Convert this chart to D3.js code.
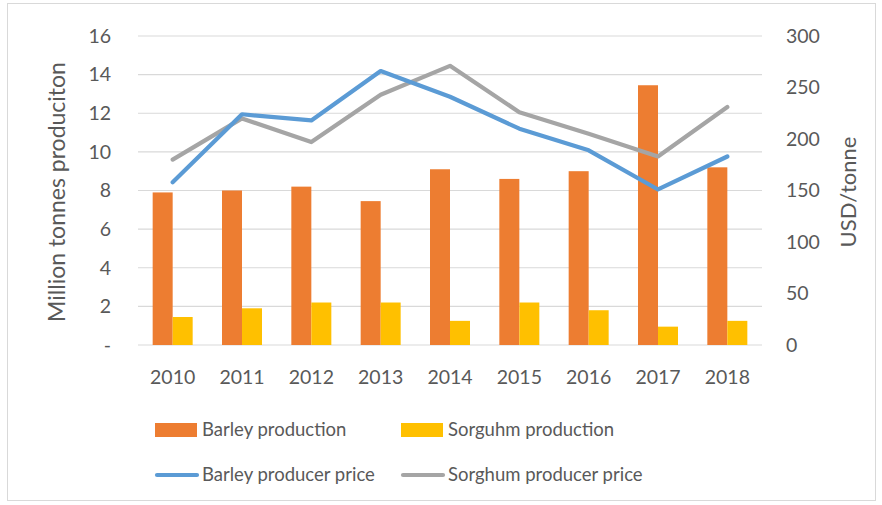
<!DOCTYPE html>
<html><head><meta charset="utf-8">
<script src="https://cdn.jsdelivr.net/npm/d3@7"></script>
<style>
html,body{margin:0;padding:0;background:#fff;}
svg text{font-family:Lato,"Open Sans",sans-serif;fill:#595959;}
</style></head>
<body><svg id="c" width="882" height="505"></svg>
<script>
const years = ["2010","2011","2012","2013","2014","2015","2016","2017","2018"];
const barleyProduction = [7.9, 8.0, 8.2, 7.45, 9.1, 8.6, 9.0, 13.45, 9.2];
const sorghumProduction = [1.45, 1.9, 2.2, 2.2, 1.25, 2.2, 1.8, 0.95, 1.25];
const barleyPrice = [158, 224, 218, 266, 241, 210, 189, 151, 183];
const sorghumPrice = [180, 220, 197, 243, 271, 226, 205, 183, 231];
const leftTicks = [0, 2, 4, 6, 8, 10, 12, 14, 16];
const rightTicks = [0, 50, 100, 150, 200, 250, 300];
const seriesNames = ["Barley production", "Sorguhm production", "Barley producer price", "Sorghum producer price"];
const colors = ["#ED7D31", "#FFC000", "#5B9BD5", "#A5A5A5"];

const svg = d3.select("#c");
svg.append("rect").attr("x",7.5).attr("y",3.5).attr("width",868).attr("height",497)
  .attr("fill","#fff").attr("stroke","#d9d9d9").attr("stroke-width",1);

const L = 138, R = 762, T = 36, B = 345;
const xc = d3.scaleBand().domain(years).range([L, R]);
const yL = d3.scaleLinear().domain([0, 16]).range([B, T]);
const yR = d3.scaleLinear().domain([0, 300]).range([B, T]);

// gridlines
svg.append("g").selectAll("line").data(leftTicks).join("line")
  .attr("x1", L).attr("x2", R).attr("y1", d => yL(d)).attr("y2", d => yL(d))
  .attr("stroke", "#d9d9d9").attr("stroke-width", 1.2);

// bars
const bw = 20;
const barG = svg.append("g");
barG.selectAll("rect.b").data(years).join("rect").attr("class","b")
  .attr("x", d => xc(d) + xc.bandwidth()/2 - bw)
  .attr("width", bw)
  .attr("y", (d,i) => yL(barleyProduction[i]))
  .attr("height", (d,i) => B - yL(barleyProduction[i]))
  .attr("fill", colors[0]);
barG.selectAll("rect.s").data(years).join("rect").attr("class","s")
  .attr("x", d => xc(d) + xc.bandwidth()/2)
  .attr("width", bw)
  .attr("y", (d,i) => yL(sorghumProduction[i]))
  .attr("height", (d,i) => B - yL(sorghumProduction[i]))
  .attr("fill", colors[1]);

// lines
const line = d3.line().x((d,i) => xc(years[i]) + xc.bandwidth()/2).y(d => yR(d));
svg.append("path").datum(sorghumPrice).attr("d", line).attr("fill","none")
  .attr("stroke", colors[3]).attr("stroke-width", 4.2).attr("stroke-linecap","round").attr("stroke-linejoin","round");
svg.append("path").datum(barleyPrice).attr("d", line).attr("fill","none")
  .attr("stroke", colors[2]).attr("stroke-width", 4.2).attr("stroke-linecap","round").attr("stroke-linejoin","round");

// axes
const axL = svg.append("g").attr("transform", `translate(111,0)`)
  .call(d3.axisLeft(yL).tickValues(leftTicks).tickSize(0).tickPadding(0).tickFormat(d => d === 0 ? "-" : d));
axL.select(".domain").remove();
axL.selectAll("text").attr("font-size", 19.5).style("font-family","Lato,sans-serif").attr("fill","#595959");

const axR = svg.append("g").attr("transform", `translate(786,0)`)
  .call(d3.axisRight(yR).tickValues(rightTicks).tickSize(0).tickPadding(0));
axR.select(".domain").remove();
axR.selectAll("text").attr("font-size", 19.5).style("font-family","Lato,sans-serif").attr("fill","#595959");

const axB = svg.append("g").attr("transform", `translate(0,${B})`)
  .call(d3.axisBottom(xc).tickSize(0).tickPadding(0));
axB.select(".domain").remove();
axB.selectAll("text").attr("font-size", 19.5).attr("dy", 0).attr("y", 39)
  .style("font-family","Lato,sans-serif").attr("fill","#595959");

// axis titles
svg.append("text").attr("transform", "translate(65,192) rotate(-90)")
  .attr("text-anchor","middle").attr("font-size", 23).text("Million tonnes produciton");
svg.append("text").attr("transform", "translate(856,192) rotate(-90)")
  .attr("text-anchor","middle").attr("font-size", 22).text("USD/tonne");

// legend
const leg = [
  {x:155, y:430, type:"rect", i:0},
  {x:401, y:430, type:"rect", i:1},
  {x:155, y:475, type:"line", i:2},
  {x:401, y:475, type:"line", i:3}
];
const lg = svg.append("g");
leg.forEach(d => {
  if (d.type === "rect") {
    lg.append("rect").attr("x", d.x).attr("y", d.y - 7).attr("width", 42).attr("height", 14).attr("fill", colors[d.i]);
  } else {
    lg.append("line").attr("x1", d.x + 2).attr("x2", d.x + 42).attr("y1", d.y).attr("y2", d.y)
      .attr("stroke", colors[d.i]).attr("stroke-width", 4.2).attr("stroke-linecap","round");
  }
  lg.append("text").attr("x", d.x + 47).attr("y", d.y).attr("dy","0.35em")
    .attr("font-size", 18.5).text(seriesNames[d.i]);
});
</script></body></html>
